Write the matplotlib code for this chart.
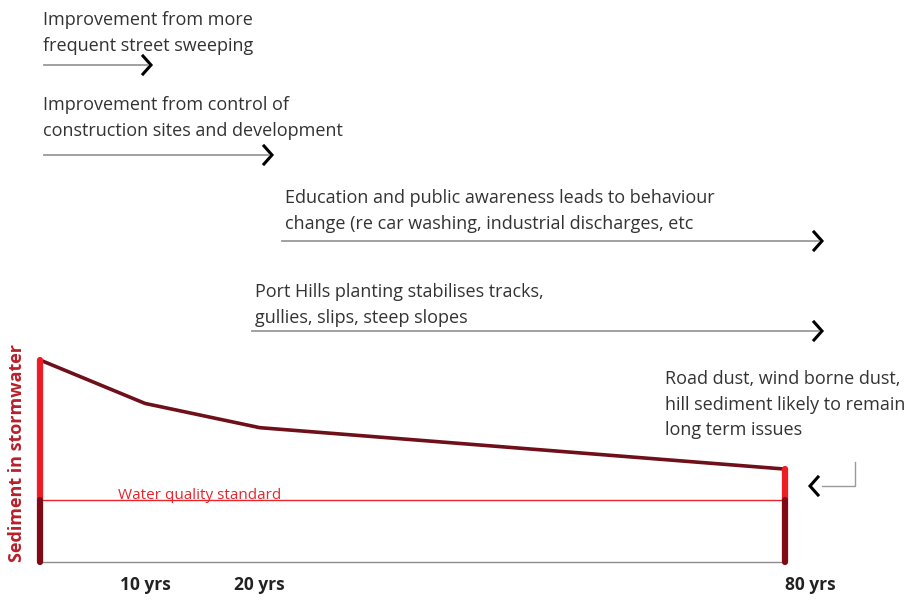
import numpy as np
import matplotlib.pyplot as plt

# Sediment curve (relative level, baseline = 0, start = 100)
years = [0, 10, 20, 80]
sediment = [100, 78.5, 66.5, 46]
standard_level = 30.5
tick_years = [10, 20, 80]
tick_labels = ["10 yrs", "20 yrs", "80 yrs"]

# Uneven time axis of the sketch: knots of years -> fraction of the axis width
year_knots = [0, 10, 20, 80]
frac_knots = [0.0, 0.141, 0.295, 1.0]

measures = [
    "Improvement from more\nfrequent street sweeping",
    "Improvement from control of\nconstruction sites and development",
    "Education and public awareness leads to behaviour\nchange (re car washing, industrial discharges, etc",
    "Port Hills planting stabilises tracks,\ngullies, slips, steep slopes",
]
residual_note = "Road dust, wind borne dust,\nhill sediment likely to remain\nlong term issues"

FONT = "Open Sans"
W, H = 908, 600
fig = plt.figure(figsize=(W / 100, H / 100), dpi=100)

# data axes (drawn first, transparent)
ax = fig.add_axes([40 / W, (H - 562) / H, 745 / W, 202 / H])
ax.patch.set_visible(False)
ax.set_xscale("function", functions=(
    lambda v: np.interp(v, year_knots, frac_knots),
    lambda v: np.interp(v, frac_knots, year_knots)))
ax.set_xlim(0, 80)
ax.set_ylim(0, 100)
for s in ax.spines.values():
    s.set_visible(False)
ax.set_yticks([])

ax.axhline(0, color="#8c8c8c", lw=1.0, clip_on=False)
ax.axhline(standard_level, color="#e8252a", lw=1.0, clip_on=False)
ax.text(7.4, standard_level - 1.5, "Water quality standard", fontsize=11,
        family=FONT, color="#e8252a", va="bottom", ha="left")

ax.plot(years, sediment, color="#6e0f1a", lw=2.6, clip_on=False,
        solid_joinstyle="round")

for yr, top in [(years[0], sediment[0]), (years[-1], sediment[-1])]:
    ax.plot([yr, yr], [standard_level, top], color="#ee1c25", lw=4.5,
            clip_on=False, solid_capstyle="round")
    ax.plot([yr, yr], [0, standard_level], color="#820a14", lw=4.5,
            clip_on=False, solid_capstyle="round")

ax.set_xticks(tick_years)
ax.set_xticklabels(tick_labels, fontsize=12.5, fontweight="bold", family=FONT,
                   color="#222222")
ax.tick_params(axis="x", length=0, pad=10)
ax.xaxis.get_majorticklabels()[-1].set_ha("left")

# overlay axes in pixel units for the text and arrows
ann = fig.add_axes([0, 0, 1, 1])
ann.patch.set_visible(False)
ann.set_xlim(0, W)
ann.set_ylim(H, 0)
ann.axis("off")


def chevron(a, x, y, direction=1):
    a.plot([x - 8 * direction, x, x - 8 * direction], [y - 9, y, y + 9],
           color="black", lw=2.2, solid_joinstyle="miter")


# (text x, text y, arrow start, arrow end, arrow y)
layout = [
    (43, 11, 44, 151, 65),
    (43, 96, 44, 272, 155),
    (285, 189, 282, 822, 241),
    (255, 283, 252, 822, 331),
]
for txt, (tx, ty, x0, x1, ay) in zip(measures, layout):
    ann.text(tx, ty, txt, fontsize=13, family=FONT, color="#333333",
             va="top", ha="left", linespacing=1.55)
    ann.plot([x0, x1 - 4], [ay, ay], color="#9a9a9a", lw=1.3)
    chevron(ann, x1, ay)

ann.text(665, 370, residual_note, fontsize=13, family=FONT, color="#333333",
         va="top", ha="left", linespacing=1.55)
ann.plot([855, 855, 822], [462, 486, 486], color="#9a9a9a", lw=1.0)
chevron(ann, 810, 486, direction=-1)

ann.text(17, 453, "Sediment in stormwater", rotation=90, fontsize=13,
         fontweight="bold", family=FONT, color="#b8202a", ha="center",
         va="center")

fig.savefig("out.png", dpi=100)
